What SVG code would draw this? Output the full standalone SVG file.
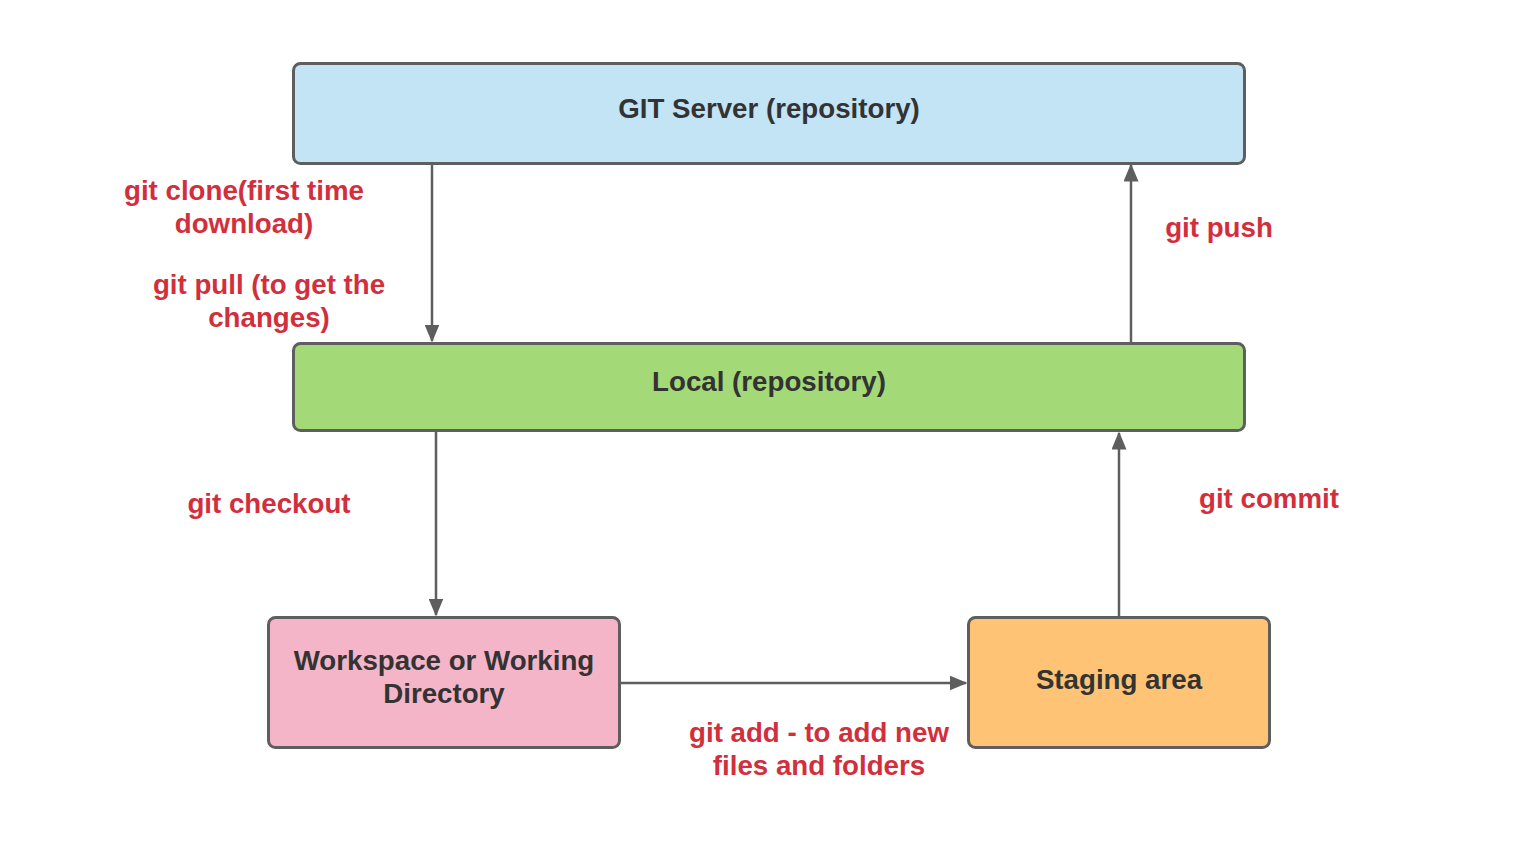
<svg xmlns="http://www.w3.org/2000/svg" width="1513" height="858" viewBox="0 0 1513 858">
<style>
.box{stroke:#5e5e5e;stroke-width:3}
.nt{font-family:"Liberation Sans",Arial,sans-serif;font-weight:bold;font-size:27.7px;fill:#333333;text-anchor:middle}
.lb{font-family:"Liberation Sans",Arial,sans-serif;font-weight:bold;font-size:27.7px;fill:#d22f3d;text-anchor:middle}
.cn{stroke:#5e5e5e;stroke-width:2.5;fill:none;marker-end:url(#ah)}
</style>
<defs>
<marker id="ah" viewBox="0 0 12 10" refX="11" refY="5" markerWidth="7.2" markerHeight="6" markerUnits="strokeWidth" orient="auto">
<path d="M0,0 L12,5 L0,10 Z" fill="#5e5e5e"/>
</marker>
</defs>
<rect width="1513" height="858" fill="#ffffff"/>
<g id="connectors">
<line class="cn" x1="432" y1="164" x2="432" y2="341"/>
<line class="cn" x1="1131" y1="342" x2="1131" y2="165"/>
<line class="cn" x1="436" y1="432" x2="436" y2="615"/>
<line class="cn" x1="1119" y1="616" x2="1119" y2="433"/>
<line class="cn" x1="621" y1="683" x2="966" y2="683"/>
</g>
<g id="git-server">
<rect class="box" x="293.5" y="63.5" width="951" height="100" rx="7" fill="#c2e4f5"/>
<text class="nt" x="769" y="118">GIT Server (repository)</text>
</g>
<g id="local">
<rect class="box" x="293.5" y="343.5" width="951" height="87" rx="7" fill="#a3d977"/>
<text class="nt" x="769" y="391">Local (repository)</text>
</g>
<g id="workspace">
<rect class="box" x="268.5" y="617.5" width="351" height="130" rx="7" fill="#f4b5c9"/>
<text class="nt" x="444" y="670">Workspace or Working</text>
<text class="nt" x="444" y="703">Directory</text>
</g>
<g id="staging">
<rect class="box" x="968.5" y="617.5" width="301" height="130" rx="7" fill="#fec374"/>
<text class="nt" x="1119" y="689">Staging area</text>
</g>
<g id="labels">
<text class="lb" x="244" y="200">git clone(first time</text>
<text class="lb" x="244" y="233">download)</text>
<text class="lb" x="269" y="294">git pull (to get the</text>
<text class="lb" x="269" y="327">changes)</text>
<text class="lb" x="1219" y="237">git push</text>
<text class="lb" x="269" y="513">git checkout</text>
<text class="lb" x="1269" y="508">git commit</text>
<text class="lb" x="819" y="742">git add - to add new</text>
<text class="lb" x="819" y="775">files and folders</text>
</g>
</svg>
